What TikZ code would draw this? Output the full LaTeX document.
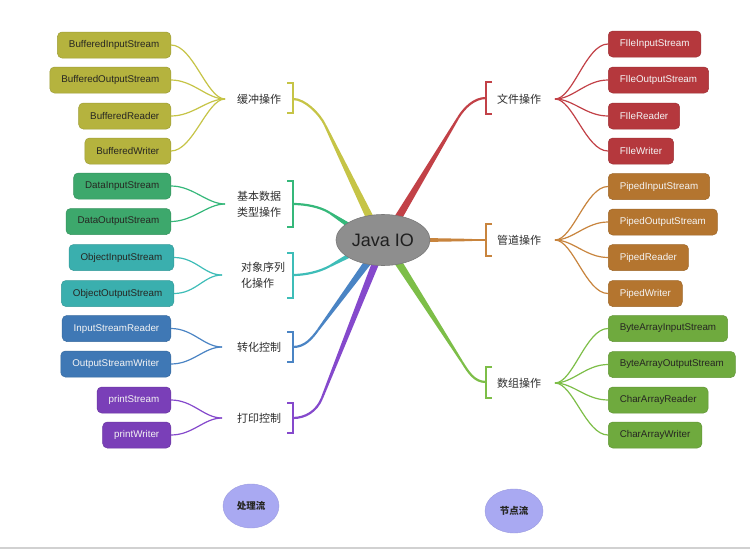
\documentclass[tikz,border=0pt]{standalone}
\usepackage{fontspec}
\setmainfont{Liberation Sans}
\newfontfamily\cjk{Noto Sans CJK SC}
\usetikzlibrary{calc,shapes.geometric}
\definecolor{cBuf}{HTML}{B5B33E}\definecolor{lBuf}{HTML}{C6C446}
\definecolor{cData}{HTML}{3DA86C}\definecolor{lData}{HTML}{35B87A}
\definecolor{cObj}{HTML}{3AAFAE}\definecolor{lObj}{HTML}{3EBDB8}
\definecolor{cTr}{HTML}{3F78B5}\definecolor{lTr}{HTML}{4A84C4}
\definecolor{cPr}{HTML}{7A3FB8}\definecolor{lPr}{HTML}{8549CC}
\definecolor{cFile}{HTML}{B5383D}\definecolor{lFile}{HTML}{C24147}
\definecolor{cPipe}{HTML}{B4752F}\definecolor{lPipe}{HTML}{C8843D}
\definecolor{cArr}{HTML}{6FAA3E}\definecolor{lArr}{HTML}{7DBE48}
\definecolor{dk}{HTML}{262622}\definecolor{lt}{HTML}{F4F4F4}
\definecolor{jgray}{HTML}{8E8E8E}\definecolor{lav}{HTML}{A9A9F2}
\definecolor{labtxt}{HTML}{2E2E2E}
\newcommand\iobranch[7]{%
  \fill[#1] ($(#2)!#7!90:(#3)$) -- ($(#3)!1.1pt!-90:(#2)$) -- ($(#3)!1.1pt!90:(#2)$) -- ($(#2)!#7!-90:(#3)$) -- cycle;
  \draw[#1, line width=2.2pt] (#3) .. controls ($(#3)!-#5!(#2)$) and ($(#4)+(#6,0)$) .. (#4);
}
\tikzset{
  leaf/.style={rounded corners=4.5pt, minimum height=26pt, inner xsep=11.5pt, inner ysep=0pt,
    font=\fontsize{9.8}{11}\selectfont, fill=#1, draw=#1!88!black, line width=0.5pt},
  lab/.style={font=\cjk\fontsize{11}{15.5}\selectfont, text=labtxt, inner sep=0pt, align=left},
  sub/.style={line width=1.2pt},
  bracket/.style={line width=1.4pt},
  pill/.style={ellipse, fill=lav, draw=lav!92!black, line width=0.4pt, inner sep=0pt,
    font=\cjk\bfseries\fontsize{9.5}{11}\selectfont, text=dk}
}
\begin{document}
\begin{tikzpicture}[x=1pt,y=-1pt]
\useasboundingbox (0,0) rectangle (750,549);
\fill[white] (0,0) rectangle (750,549);
\fill[black!18] (0,546.5) rectangle (750,549);

% ---------- main branches ----------
\coordinate (sBuf) at (370,218); \coordinate (kBuf) at (325,125); \coordinate (eBuf) at (293,99);
\coordinate (sData) at (350,226); \coordinate (kData) at (330,213); \coordinate (eData) at (293,204);
\coordinate (sObj) at (352,254); \coordinate (kObj) at (330,266); \coordinate (eObj) at (293,275);
\coordinate (sTr) at (368,262); \coordinate (kTr) at (318,330); \coordinate (eTr) at (293,347);
\coordinate (sPr) at (376,262); \coordinate (kPr) at (322,398); \coordinate (ePr) at (293,418);
\coordinate (sFile) at (398,218); \coordinate (kFile) at (458,118); \coordinate (eFile) at (486,98);
\coordinate (sPipe) at (425,240); \coordinate (kPipe) at (472,240); \coordinate (ePipe) at (486,240);
\coordinate (sArr) at (398,262); \coordinate (kArr) at (462,362); \coordinate (eArr) at (486,382);

\iobranch{lBuf}{sBuf}{kBuf}{eBuf}{0.12}{12}{3.8pt}
\iobranch{lData}{sData}{kData}{eData}{0.5}{12}{2.4pt}
\iobranch{lObj}{sObj}{kObj}{eObj}{0.5}{12}{2.4pt}
\iobranch{lTr}{sTr}{kTr}{eTr}{0.12}{12}{3.6pt}
\iobranch{lPr}{sPr}{kPr}{ePr}{0.1}{12}{3.6pt}
\iobranch{lFile}{sFile}{kFile}{eFile}{0.1}{-12}{3.8pt}
\iobranch{lPipe}{sPipe}{kPipe}{ePipe}{0.2}{-6}{2pt}
\iobranch{lArr}{sArr}{kArr}{eArr}{0.1}{-12}{3.8pt}

% ---------- centre ----------
\node[ellipse, fill=jgray, draw=jgray!85!black, line width=0.6pt, minimum width=94pt, minimum height=51pt,
  inner sep=0pt, font=\fontsize{18}{20}\selectfont, text=black!88] (java) at (383,240) {Java IO};

% ---------- brackets ----------
\draw[bracket, lBuf] (287,83) -- (293,83) -- (293,113) -- (287,113);
\draw[bracket, lData] (287,181) -- (293,181) -- (293,227) -- (287,227);
\draw[bracket, lObj] (287,253) -- (293,253) -- (293,298) -- (287,298);
\draw[bracket, lTr] (287,332) -- (293,332) -- (293,362) -- (287,362);
\draw[bracket, lPr] (287,403) -- (293,403) -- (293,433) -- (287,433);
\draw[bracket, lFile] (492,82) -- (486,82) -- (486,114) -- (492,114);
\draw[bracket, lPipe] (492,224) -- (486,224) -- (486,256) -- (492,256);
\draw[bracket, lArr] (492,367) -- (486,367) -- (486,398) -- (492,398);

% ---------- labels ----------
\node[lab, anchor=west] (tBuf) at (237,99) {缓冲操作};
\node[lab, anchor=west] (tData) at (237,204.5) {基本数据\\类型操作};
\node[lab, anchor=west] (tObj) at (241,275.5) {对象序列\\化操作};
\node[lab, anchor=west] (tTr) at (237,347) {转化控制};
\node[lab, anchor=west] (tPr) at (237,418) {打印控制};
\node[lab, anchor=west] (tFile) at (497,99) {文件操作};
\node[lab, anchor=west] (tPipe) at (497,240) {管道操作};
\node[lab, anchor=west] (tArr) at (497,383) {数组操作};

% ---------- junctions ----------
\coordinate (jBuf) at (225,99);
\coordinate (jData) at (225,204);
\coordinate (jObj) at (222,275);
\coordinate (jTr) at (222,347);
\coordinate (jPr) at (222,418);
\coordinate (jFile) at (555,99);
\coordinate (jPipe) at (555,240);
\coordinate (jArr) at (555,383);

% ---------- left leaves ----------
\node[leaf=cBuf, text=dk, anchor=east] (bis) at (171,45) {BufferedInputStream};
\node[leaf=cBuf, text=dk, anchor=east] (bos) at (171,80) {BufferedOutputStream};
\node[leaf=cBuf, text=dk, anchor=east] (br) at (171,116) {BufferedReader};
\node[leaf=cBuf, text=dk, anchor=east] (bw) at (171,151) {BufferedWriter};
\node[leaf=cData, text=dk, anchor=east] (dis) at (171,186) {DataInputStream};
\node[leaf=cData, text=dk, anchor=east] (dos) at (171,221.5) {DataOutputStream};
\node[leaf=cObj, text=dk, anchor=east] (ois) at (174,257.5) {ObjectInputStream};
\node[leaf=cObj, text=dk, anchor=east] (oos) at (174,293.5) {ObjectOutputStream};
\node[leaf=cTr, text=lt, anchor=east] (isr) at (171,328.5) {InputStreamReader};
\node[leaf=cTr, text=lt, anchor=east] (osw) at (171,364) {OutputStreamWriter};
\node[leaf=cPr, text=lt, anchor=east] (ps) at (171,400) {printStream};
\node[leaf=cPr, text=lt, anchor=east] (pw) at (171,435) {printWriter};

% ---------- right leaves ----------
\node[leaf=cFile, text=lt, anchor=west] (fis) at (608,44) {FIleInputStream};
\node[leaf=cFile, text=lt, anchor=west] (fos) at (608,80) {FIleOutputStream};
\node[leaf=cFile, text=lt, anchor=west] (fr) at (608,116) {FIleReader};
\node[leaf=cFile, text=lt, anchor=west] (fw) at (608,151) {FIleWriter};
\node[leaf=cPipe, text=lt, anchor=west] (pis) at (608,186.5) {PipedInputStream};
\node[leaf=cPipe, text=lt, anchor=west] (pos) at (608,222) {PipedOutputStream};
\node[leaf=cPipe, text=lt, anchor=west] (pr) at (608,257.5) {PipedReader};
\node[leaf=cPipe, text=lt, anchor=west] (pwr) at (608,293.5) {PipedWriter};
\node[leaf=cArr, text=dk, anchor=west] (bais) at (608,328.5) {ByteArrayInputStream};
\node[leaf=cArr, text=dk, anchor=west] (baos) at (608,364.5) {ByteArrayOutputStream};
\node[leaf=cArr, text=dk, anchor=west] (car) at (608,400) {CharArrayReader};
\node[leaf=cArr, text=dk, anchor=west] (caw) at (608,435) {CharArrayWriter};

% ---------- sub branches ----------
\foreach \j/\b/\c in {jBuf/bis/lBuf, jBuf/bos/lBuf, jBuf/br/lBuf, jBuf/bw/lBuf,
  jData/dis/lData, jData/dos/lData, jObj/ois/lObj, jObj/oos/lObj,
  jTr/isr/lTr, jTr/osw/lTr, jPr/ps/lPr, jPr/pw/lPr}
  \draw[sub, \c] (\j) .. controls +(-18,0) and +(22,0) .. (\b.east);
\foreach \j/\b/\c in {jFile/fis/lFile, jFile/fos/lFile, jFile/fr/lFile, jFile/fw/lFile,
  jPipe/pis/lPipe, jPipe/pos/lPipe, jPipe/pr/lPipe, jPipe/pwr/lPipe,
  jArr/bais/lArr, jArr/baos/lArr, jArr/car/lArr, jArr/caw/lArr}
  \draw[sub, \c] (\j) .. controls +(18,0) and +(-22,0) .. (\b.west);

% ---------- bottom ----------
\node[pill, minimum width=56pt, minimum height=44pt] (proc) at (251,506) {处理流};
\node[pill, minimum width=58pt, minimum height=44pt] (nodestream) at (514,511) {节点流};
\end{tikzpicture}
\end{document}
